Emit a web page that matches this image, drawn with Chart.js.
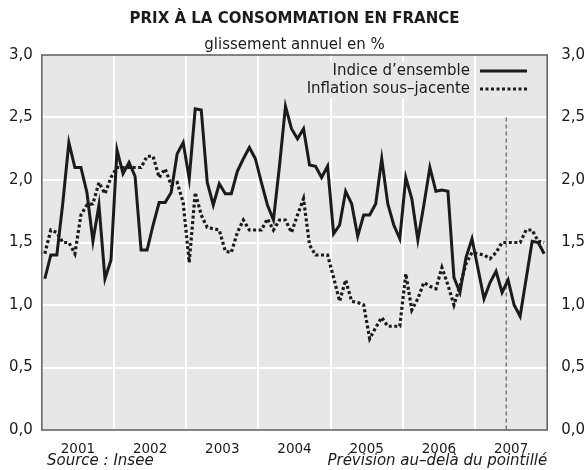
<!DOCTYPE html>
<html><head><meta charset="utf-8">
<script src="https://cdn.jsdelivr.net/npm/chart.js@4/dist/chart.umd.min.js"></script>
<style>html,body{margin:0;padding:0;background:#fff}#wrap{width:587px;height:470px}</style>
</head><body><div id="wrap"><canvas id="c" width="587" height="470"></canvas></div>
<script>
// ---- data ----
const years = ['2001','2002','2003','2004','2005','2006','2007'];
const yTickLabels = ['0,0','0,5','1,0','1,5','2,0','2,5','3,0'];
// monthly index, Jan 2001 = 0 ... Dec 2007 = 83
const indiceEnsemble = [
  1.21,1.40,1.40,1.82,2.30,2.10,2.10,1.90,1.51,1.80,1.21,1.36,
  2.24,2.05,2.14,2.03,1.44,1.44,1.64,1.82,1.82,1.90,2.21,2.30,
  2.01,2.57,2.56,1.98,1.80,1.97,1.89,1.89,2.07,2.17,2.26,2.17,
  1.98,1.80,1.68,2.11,2.59,2.41,2.33,2.41,2.12,2.11,2.02,2.11,
  1.57,1.64,1.91,1.81,1.55,1.72,1.72,1.81,2.17,1.81,1.64,1.53,
  2.02,1.85,1.52,1.80,2.10,1.91,1.92,1.91,1.22,1.10,1.38,1.53,
  1.29,1.05,1.18,1.27,1.10,1.20,1.00,0.91,1.21,1.51,1.50,1.41
];
const inflationSousJacente = [
  1.41,1.60,1.58,1.50,1.50,1.41,1.72,1.80,1.81,1.98,1.89,2.02,
  2.10,2.10,2.10,2.10,2.10,2.19,2.19,2.02,2.09,1.96,1.98,1.82,
  1.34,1.90,1.72,1.62,1.61,1.60,1.43,1.42,1.58,1.68,1.60,1.60,
  1.60,1.69,1.60,1.68,1.68,1.58,1.72,1.85,1.48,1.40,1.40,1.40,
  1.22,1.03,1.20,1.03,1.02,1.00,0.73,0.82,0.90,0.83,0.83,0.83,
  1.25,0.96,1.05,1.18,1.15,1.13,1.30,1.16,1.00,1.15,1.33,1.42,
  1.41,1.40,1.37,1.42,1.50,1.50,1.50,1.50,1.60,1.60,1.51,1.50
];
const forecastStart = 76.7;   // position of the dotted forecast marker (months)
const forecastTop = 2.5;

const texts = {
  title: 'PRIX À LA CONSOMMATION EN FRANCE',
  subtitle: 'glissement annuel en %',
  legend1: 'Indice d’ensemble',
  legend2: 'Inflation sous–jacente',
  source: 'Source : Insee',
  note: 'Prévision au–delà du pointillé'
};

// ---- styling ----
const BG = '#e6e7e9', INK = '#1b1b1b', FONT = 'DejaVu Sans';
Chart.defaults.font.family = FONT;
Chart.defaults.color = INK;

const toPts = arr => arr.map((v, i) => ({x: i, y: v}));

const decor = {
  id: 'decor',
  beforeDraw(chart) {
    const a = chart.chartArea, ctx = chart.ctx;
    ctx.save();
    ctx.fillStyle = BG;
    ctx.fillRect(a.left, a.top, a.right - a.left, a.bottom - a.top);
    ctx.restore();
  },
  beforeDatasetsDraw(chart) {
    const ctx = chart.ctx, x = chart.scales.x, y = chart.scales.y;
    const px = x.getPixelForValue(forecastStart);
    ctx.save();
    ctx.strokeStyle = '#7a7a7a';
    ctx.lineWidth = 1.5;
    ctx.setLineDash([4, 3]);
    ctx.beginPath();
    ctx.moveTo(px, y.getPixelForValue(forecastTop));
    ctx.lineTo(px, y.getPixelForValue(0));
    ctx.stroke();
    ctx.restore();
  },
  afterDraw(chart) {
    const a = chart.chartArea, ctx = chart.ctx;
    const cx = (a.left + a.right) / 2;
    ctx.save();
    // border
    ctx.strokeStyle = '#666';
    ctx.lineWidth = 1.6;
    ctx.strokeRect(a.left, a.top, a.right - a.left, a.bottom - a.top);
    // titles
    ctx.fillStyle = INK;
    ctx.textAlign = 'center';
    ctx.textBaseline = 'middle';
    ctx.font = 'bold 15px ' + FONT;
    ctx.fillText(texts.title, cx, 19);
    ctx.font = '15px ' + FONT;
    ctx.fillText(texts.subtitle, cx, 45);
    // legend
    const lx = 470;
    const rows = [[texts.legend1, 71, []], [texts.legend2, 89, [3, 2.5]]];
    ctx.font = '15px ' + FONT;
    ctx.textAlign = 'right';
    rows.forEach(([t, yy, dash]) => {
      const w = ctx.measureText(t).width;
      ctx.fillStyle = BG;
      ctx.fillRect(lx - w - 3, yy - 9, w + 6, 18);
      ctx.fillStyle = INK;
      ctx.fillText(t, lx, yy);
      ctx.strokeStyle = INK;
      ctx.lineWidth = 3;
      ctx.setLineDash(dash);
      ctx.beginPath();
      ctx.moveTo(480, yy);
      ctx.lineTo(527, yy);
      ctx.stroke();
    });
    ctx.setLineDash([]);
    // notes
    ctx.font = 'italic 15px ' + FONT;
    ctx.textAlign = 'left';
    ctx.fillText(texts.source, 47, 461);
    ctx.textAlign = 'right';
    ctx.fillText(texts.note, a.right, 461);
    ctx.restore();
  }
};

new Chart(document.getElementById('c'), {
  type: 'line',
  data: {
    datasets: [
      {label: texts.legend1, data: toPts(indiceEnsemble), borderColor: INK, borderWidth: 3,
       pointRadius: 0, tension: 0, fill: false},
      {label: texts.legend2, data: toPts(inflationSousJacente), borderColor: INK, borderWidth: 3.2,
       borderDash: [3, 2.5], pointRadius: 0, tension: 0, fill: false}
    ]
  },
  options: {
    responsive: false,
    animation: false,
    devicePixelRatio: 1,
    layout: {padding: {top: 55, left: 0, right: 0, bottom: 0}},
    plugins: {legend: {display: false}, tooltip: {enabled: false}, title: {display: false}},
    scales: {
      x: {
        type: 'linear', min: -0.5, max: 83.5,
        afterBuildTicks: s => { const t = []; for (let m = 0; m <= 84; m += 6) t.push({value: m - 0.5}); s.ticks = t; },
        afterFit: s => { s.height = 40; },
        border: {display: false},
        grid: {
          lineWidth: 2, drawTicks: false,
          color: c => { const m = Math.round((c.tick ? c.tick.value : 0) + 0.5); return (m % 12 === 0 && m > 0 && m < 84) ? '#ffffff' : 'rgba(0,0,0,0)'; }
        },
        ticks: {
          autoSkip: false, maxRotation: 0, padding: 11, color: INK, font: {size: 13.5},
          callback: v => { const m = Math.round(v + 0.5); return (m % 12 === 6) ? years[(m - 6) / 12] : ''; }
        }
      },
      y: {
        position: 'left', min: 0, max: 3,
        afterFit: s => { s.width = 41.8; },
        border: {display: false},
        grid: {color: c => (c.tick && c.tick.value > 0 && c.tick.value < 3) ? '#ffffff' : 'rgba(0,0,0,0)', lineWidth: 2, drawTicks: false},
        ticks: {stepSize: 0.5, padding: 9, color: INK, font: {size: 15}, callback: v => yTickLabels[Math.round(v * 2)]}
      },
      y2: {
        position: 'right', min: 0, max: 3,
        afterFit: s => { s.width = 39.8; },
        border: {display: false},
        grid: {display: false, drawTicks: false},
        ticks: {stepSize: 0.5, padding: 14, color: INK, font: {size: 15}, callback: v => yTickLabels[Math.round(v * 2)]}
      }
    }
  },
  plugins: [decor]
});
</script>
</body></html>
